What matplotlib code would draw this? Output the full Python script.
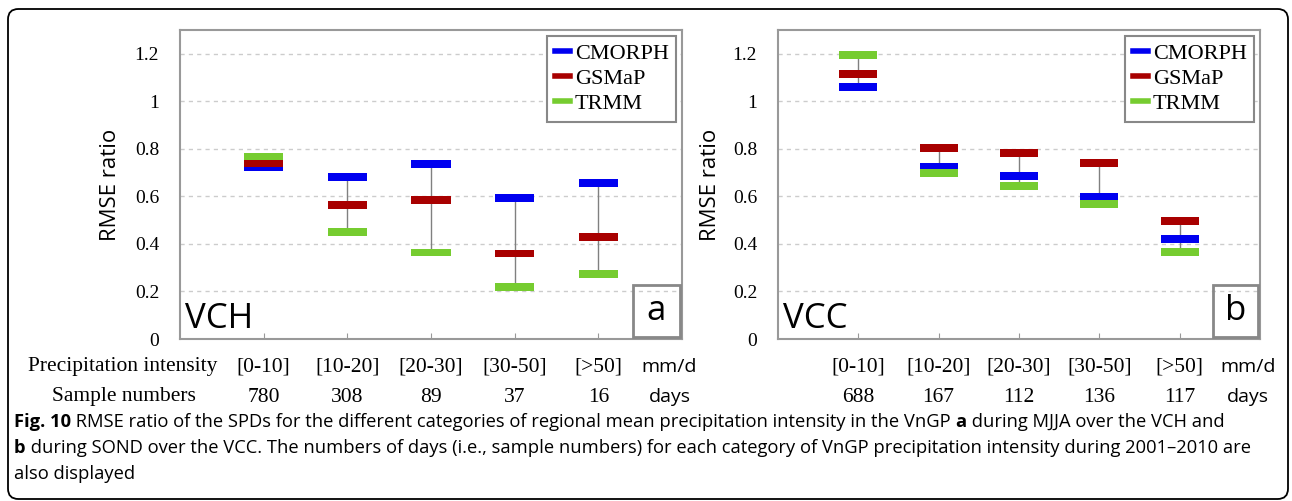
import numpy as np
import matplotlib
matplotlib.use('Agg')
import matplotlib.pyplot as plt
from matplotlib.lines import Line2D
from matplotlib.patches import FancyBboxPatch, Rectangle

# data
series = ['CMORPH', 'GSMaP', 'TRMM']
colors = ['#0000F0', '#A80000', '#76CC30']
categories = ['[0-10]', '[10-20]', '[20-30]', '[30-50]', '[>50]']

vch_cmorph = [0.725, 0.680, 0.735, 0.593, 0.656]
vch_gsmap = [0.740, 0.562, 0.585, 0.360, 0.428]
vch_trmm = [0.768, 0.449, 0.364, 0.220, 0.273]
vch_days = [780, 308, 89, 37, 16]

vcc_cmorph = [1.061, 0.723, 0.686, 0.597, 0.421]
vcc_gsmap = [1.116, 0.804, 0.783, 0.739, 0.497]
vcc_trmm = [1.196, 0.698, 0.644, 0.569, 0.366]
vcc_days = [688, 167, 112, 136, 117]

SERIF = 'Liberation Serif'
SANS = 'Open Sans'

W, H = 1292, 501
fig = plt.figure(figsize=(W / 100, H / 100), dpi=100)


def panel(left, width, cmorph, gsmap, trmm, days, region, letter, show_row_labels):
    ax = fig.add_axes([left / W, 1 - 339 / H, width / W, 309 / H])
    x = np.arange(1, len(categories) + 1)
    vals = np.array([cmorph, gsmap, trmm])
    ax.vlines(x, vals.min(axis=0), vals.max(axis=0), color='#808080', lw=1, zorder=2)
    bh = 0.033
    for v, c in zip(vals, colors):
        ax.bar(x, bh, bottom=np.array(v) - bh / 2, width=0.47, color=c, zorder=3)

    ax.set_xlim(0, 6)
    ax.set_ylim(0, 1.3)
    ax.set_yticks(np.arange(0, 1.21, 0.2))
    ax.set_yticklabels(['0', '0.2', '0.4', '0.6', '0.8', '1', '1.2'],
                       family=SERIF, fontsize=14)
    ax.set_xticks(x)
    ax.set_xticklabels([])
    ax.tick_params(axis='y', length=0, pad=15)
    ax.tick_params(axis='x', length=4, color='#999999', direction='in')
    for sp in ax.spines.values():
        sp.set_color('#999999')
        sp.set_linewidth(1.5)
    for yy in np.arange(0.2, 1.21, 0.2):
        ax.axhline(yy, color='#cccccc', lw=1, ls=(0, (3, 3)), zorder=1)
    ax.set_ylabel('RMSE ratio', family=SANS, fontsize=16)
    ax.yaxis.set_label_coords(-0.118, 0.5)

    handles = [Line2D([], [], color=c, lw=4) for c in colors]
    leg = ax.legend(handles, series, loc='upper right', prop={'family': SERIF, 'size': 16},
                    handlelength=0.7, handletextpad=0.2, labelspacing=0.2,
                    borderaxespad=0.25, borderpad=0.35, fancybox=False,
                    edgecolor='#888888', framealpha=1)
    leg.get_frame().set_linewidth(1.5)

    ax.text(0.01, 0.01, region, transform=ax.transAxes, family=SANS,
            fontsize=25, ha='left', va='bottom')
    ax.add_patch(Rectangle((0.902, 0.008), 0.094, 0.167, transform=ax.transAxes,
                           fill=False, ec='#888888', lw=2, zorder=5))
    ax.text(0.949, 0.09, letter, transform=ax.transAxes, family=SANS,
            fontsize=25, ha='center', va='center', zorder=6)

    tr = ax.get_xaxis_transform()
    row1 = 1 - (367 - 30) / 309
    row2 = 1 - (397 - 30) / 309
    for xi, cat, d in zip(x, categories, days):
        ax.text(xi, row1, cat, transform=tr, family=SERIF, fontsize=15.5,
                ha='center', va='center')
        ax.text(xi, row2, str(d), transform=tr, family=SERIF, fontsize=15.5,
                ha='center', va='center')
    ax.text(5.85, row1, 'mm/d', transform=tr, family=SANS, fontsize=14,
            ha='center', va='center')
    ax.text(5.85, row2, 'days', transform=tr, family=SANS, fontsize=14,
            ha='center', va='center')
    if show_row_labels:
        fig.text(123 / W, 1 - 367 / H, 'Precipitation intensity', family=SERIF,
                 fontsize=15.5, ha='center', va='center')
        fig.text(124 / W, 1 - 397 / H, 'Sample numbers', family=SERIF,
                 fontsize=15.5, ha='center', va='center')
    return ax


panel(180, 502, vch_cmorph, vch_gsmap, vch_trmm, vch_days, 'VCH', 'a', True)
panel(778, 482, vcc_cmorph, vcc_gsmap, vcc_trmm, vcc_days, 'VCC', 'b', False)

# outer rounded frame
fig.patches.append(FancyBboxPatch((8 / W, 2 / H), 1280 / W, 490 / H,
                                  boxstyle='round,pad=0,rounding_size=0.008',
                                  mutation_aspect=W / H, transform=fig.transFigure,
                                  fill=False, ec='black', lw=1.3, figure=fig))

# caption, with bold pieces
caption = [
    [('Fig. 10', 'bold'), (' RMSE ratio of the SPDs for the different categories of regional mean '
                           'precipitation intensity in the VnGP ', 'normal'),
     ('a', 'bold'), (' during MJJA over the VCH and', 'normal')],
    [('b', 'bold'), (' during SOND over the VCC. The numbers of days (i.e., sample numbers) for each '
                     'category of VnGP precipitation intensity during 2001\u20132010 are', 'normal')],
    [('also displayed', 'normal')],
]
cap_y = [422, 448, 474]
fig.canvas.draw()
r = fig.canvas.get_renderer()
for line, yy in zip(caption, cap_y):
    xx = 14
    for txt, wt in line:
        t = fig.text(xx / W, 1 - yy / H, txt, family=SANS, fontsize=13.2,
                     weight=wt, ha='left', va='center')
        bb = t.get_window_extent(renderer=r)
        xx += bb.width

fig.savefig('out.png', dpi=100)
